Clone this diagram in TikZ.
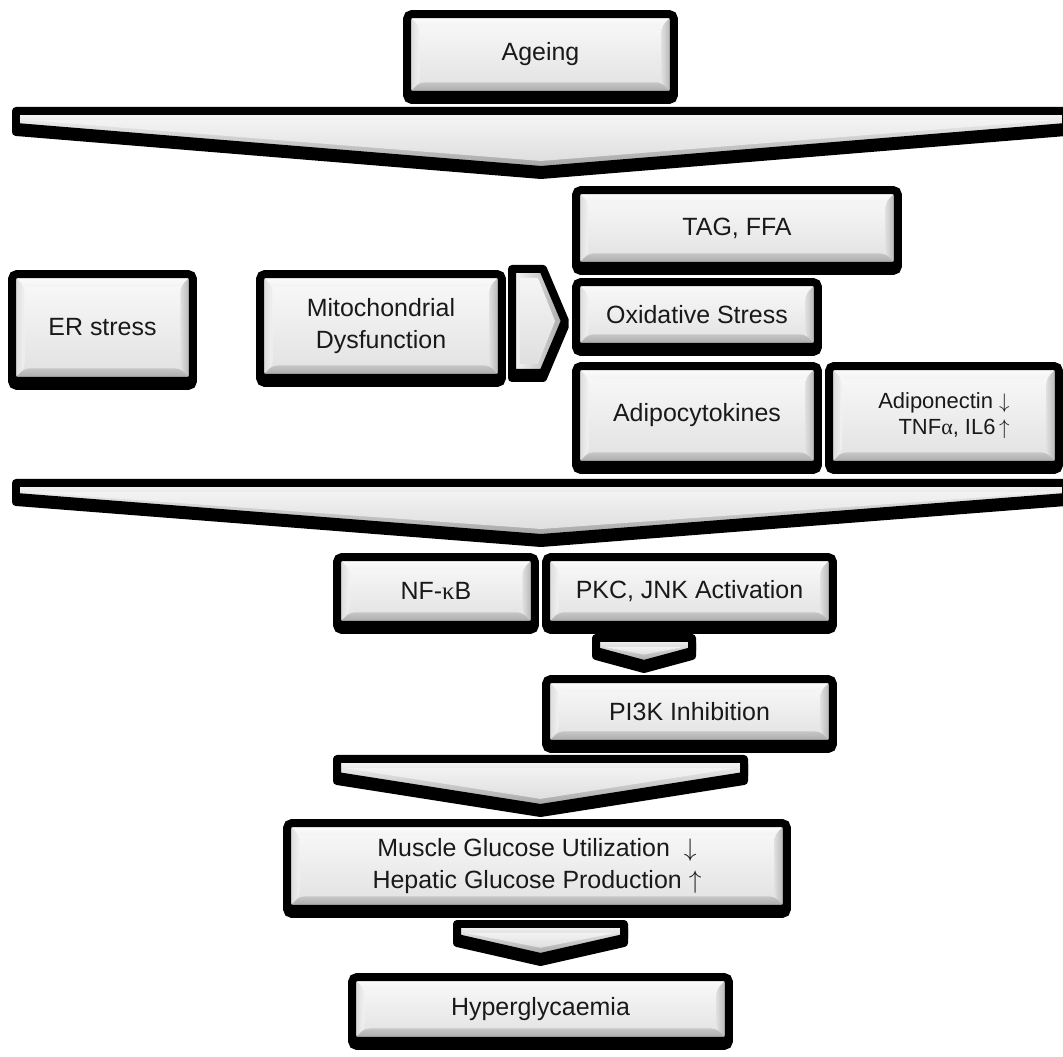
\documentclass[tikz,border=0pt]{standalone}
\usepackage{fontspec}
\setmainfont{Liberation Sans}
\newfontfamily\grk{Liberation Serif}
\usetikzlibrary{calc}

% outline width and bevel width
\newcommand\lw{0.16cm}
\newcommand\bevw{0.25cm}
\newcommand\bxfont{\fontsize{14.2}{18}\selectfont}
\newcommand\smfont{\fontsize{12.5}{14.7}\selectfont}
\newcommand\dn{$\downarrow$}
\newcommand\up{$\uparrow$}

% bevelled face drawn inside a box
\newcommand\boxbevel{%
  \shade[top color=gray!4, bottom color=gray!24]
    (path picture bounding box.south west) rectangle (path picture bounding box.north east);
  \shade[top color=white, bottom color=gray!10]
    let \p1=(path picture bounding box.south west), \p2=(path picture bounding box.north east) in
    (\x1,\y2) -- (\x2,\y2) -- (\x2-\bevw,\y2-\bevw) -- (\x1+\bevw,\y2-\bevw) -- cycle;
  \shade[left color=gray!35, right color=gray!10]
    let \p1=(path picture bounding box.south west), \p2=(path picture bounding box.north east) in
    (\x1,\y2) -- (\x1+\bevw,\y2-\bevw) -- (\x1+\bevw,\y1+\bevw) -- (\x1,\y1) -- cycle;
  \shade[left color=gray!25, right color=gray!70]
    let \p1=(path picture bounding box.south west), \p2=(path picture bounding box.north east) in
    (\x2,\y2) -- (\x2-\bevw,\y2-\bevw) -- (\x2-\bevw,\y1+\bevw) -- (\x2,\y1) -- cycle;
  \shade[top color=gray!45, bottom color=gray!75]
    let \p1=(path picture bounding box.south west), \p2=(path picture bounding box.north east) in
    (\x1,\y1) -- (\x1+\bevw,\y1+\bevw) -- (\x2-\bevw,\y1+\bevw) -- (\x2,\y1) -- cycle;
}

% downward chevron: left, right, top, side bottom, tip (tip x is the middle)
\newcommand\chd{9}
\newcommand\downchev[5]{%
  \pgfmathsetmacro\chs{(#5-#4)/((#2-#1)/2)}%
  \pgfmathsetmacro\chq{sqrt(1+\chs*\chs)}%
  \pgfmathsetmacro\chside{max(#3+\chd,#4+\chs*\chd-\chd*\chq)}%
  \pgfmathsetmacro\chtip{#5-\chd*\chq}%
  \filldraw[black, line width=\lw, line join=round, transform canvas={yshift=-0.1cm}]
    (#1,#3) -- (#2,#3) -- (#2,#4) -- ({(#1+#2)/2},#5) -- (#1,#4) -- cycle;
  \shade[draw=black, line width=\lw, line join=round, top color=gray!5, bottom color=gray!75]
    (#1,#3) -- (#2,#3) -- (#2,#4) -- ({(#1+#2)/2},#5) -- (#1,#4) -- cycle;
  \shade[top color=gray!10, bottom color=gray!25]
    ({#1+\chd},{#3+\chd}) -- ({#2-\chd},{#3+\chd}) -- ({#2-\chd},\chside)
    -- ({(#1+#2)/2},\chtip) -- ({#1+\chd},\chside) -- cycle;
}

\tikzset{
  box/.style={draw=black, line width=\lw, rounded corners=0.1cm, inner sep=0pt,
    align=center, font=\bxfont, text=black!90,
    preaction={draw=black, fill=black, line width=\lw, transform canvas={yshift=-0.1cm}},
    path picture={\boxbevel}},
}

\begin{document}
\begin{tikzpicture}[x=0.02cm, y=-0.02cm]
\useasboundingbox (0,0) rectangle (1063,1057);

% top cause
\node[box, minimum width=5.34cm, minimum height=1.62cm] (ageing) at (540.5,54.5) {Ageing};

% wide chevron under the cause
\downchev{16}{1066}{111}{127}{170}

% middle row of factors
\node[box, minimum width=6.44cm, minimum height=1.52cm] (tag) at (737,228) {TAG, FFA};
\node[box, minimum width=3.62cm, minimum height=2.14cm] (ers) at (102.5,327.5) {ER stress};
\node[box, minimum width=4.84cm, minimum height=2.08cm] (mito) at (381,326) {Mitochondrial\\Dysfunction};
\node[box, minimum width=4.84cm, minimum height=1.30cm] (oxid) at (697,314.5) {Oxidative Stress};
\node[box, minimum width=4.84cm, minimum height=1.98cm] (adipo) at (697,415.5) {Adipocytokines};
\node[box, minimum width=4.60cm, minimum height=1.98cm, font=\smfont, align=right] (adipon) at (944,415.5)
  {Adiponectin \dn\\TNF{\grk α}, IL6\,\up};

% right-pointing chevron between the mitochondria box and the stress boxes
\filldraw[black, line width=\lw, line join=round, transform canvas={yshift=-0.1cm}]
  (512,269) -- (543,269) -- (565,321) -- (543,373) -- (512,373) -- cycle;
\shade[draw=black, line width=\lw, line join=round, left color=gray!5, right color=gray!70]
  (512,269) -- (543,269) -- (565,321) -- (543,373) -- (512,373) -- cycle;
\shade[top color=gray!8, bottom color=gray!25]
  (520,278) -- (538,278) -- (555,321) -- (538,364) -- (520,364) -- cycle;

% second wide chevron
\downchev{16}{1066}{483}{497}{538}

% signalling
\node[box, minimum width=3.96cm, minimum height=1.36cm] (nfkb) at (436,591) {NF-{\grk κ}B};
\node[box, minimum width=5.74cm, minimum height=1.36cm] (pkc) at (689.5,591) {PKC, JNK Activation};
\downchev{596}{692}{638}{651}{664}
\node[box, minimum width=5.74cm, minimum height=1.30cm] (pi3k) at (689.5,711.5) {PI3K Inhibition};

\downchev{337}{744}{759}{776}{808}

% outcome
\node[box, minimum width=10.0cm, minimum height=1.72cm] (glu) at (537,866)
  {Muscle Glucose Utilization\ \ \dn\\Hepatic Glucose Production \up};
\downchev{457}{624}{924}{938}{957}
\node[box, minimum width=7.54cm, minimum height=1.28cm] (hyper) at (540.5,1009) {Hyperglycaemia};
\end{tikzpicture}
\end{document}
